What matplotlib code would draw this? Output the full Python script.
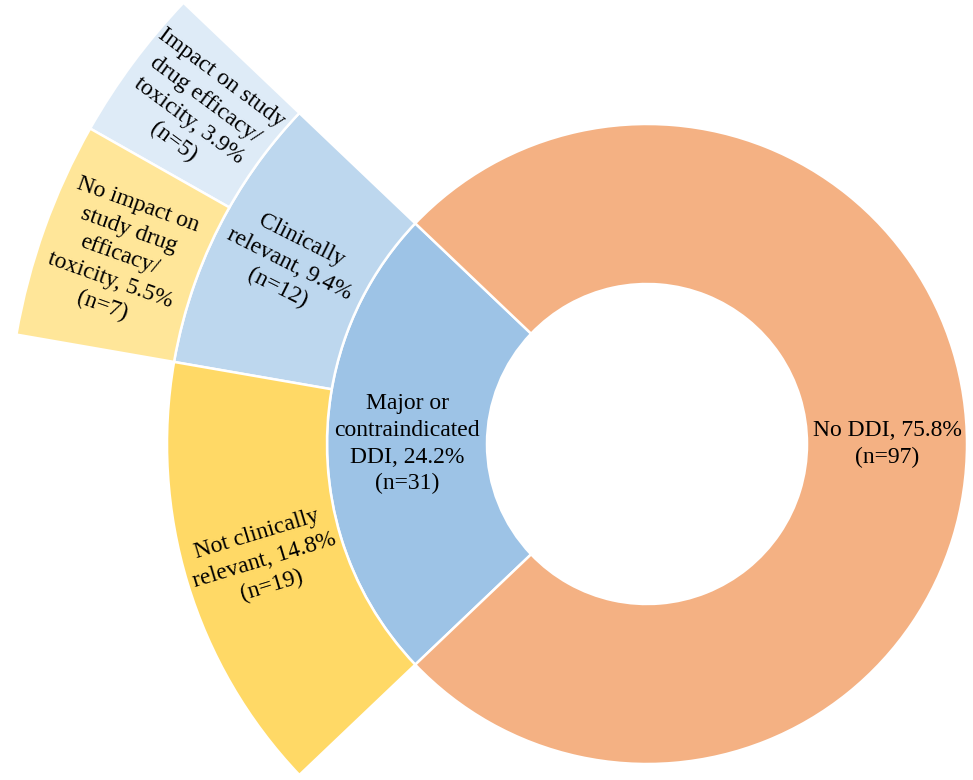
import numpy as np
import matplotlib.pyplot as plt

# ring data (inside -> outside), counts out of 128 patients
inner_names = ["Major or\ncontraindicated\nDDI", "No DDI"]
inner_counts = [31, 97]
middle_names = ["Clinically\nrelevant", "Not clinically\nrelevant"]
middle_counts = [12, 19]
outer_names = ["Impact on study\ndrug efficacy/\ntoxicity", "No impact on\nstudy drug\nefficacy/\ntoxicity"]
outer_counts = [5, 7]

inner_colors = ["#9DC3E6", "#F4B183"]
middle_colors = ["#BDD7EE", "#FFD966"]
outer_colors = ["#DEEBF7", "#FFE699"]

TOTAL = sum(inner_counts)
RING = 160
START = 180 - 360 * inner_counts[0] / TOTAL / 2

plt.rcParams["font.family"] = ["Liberation Serif", "DejaVu Serif"]

fig = plt.figure(figsize=(9.73, 7.8), dpi=100)
ax = fig.add_axes([0, 0, 1, 1])


def ring(counts, names, colors, radius):
    spacer = TOTAL - sum(counts)
    vals = list(counts) + ([spacer] if spacer > 0 else [])
    cols = list(colors) + (["none"] if spacer > 0 else [])
    wedges, _ = ax.pie(vals, radius=radius, startangle=START, counterclock=True,
                       colors=cols,
                       wedgeprops=dict(width=RING, edgecolor="white", linewidth=1.8))
    if spacer > 0:
        wedges[-1].set_visible(False)
    for w, name, n in zip(wedges, names, counts):
        mid = (w.theta1 + w.theta2) / 2
        r = w.r - w.width / 2
        a = mid % 360
        rot = a - 180 if 90 < a < 270 else a
        if abs(rot) < 1:
            rot = 0
        x, y = r * np.cos(np.radians(mid)), r * np.sin(np.radians(mid))
        ax.text(x, y, f"{name}, {100 * n / TOTAL:.1f}%\n(n={n})",
                ha="center", va="center", rotation=rot, rotation_mode="anchor",
                fontsize=17, linespacing=1.35, color="black")


ring(inner_counts, inner_names, inner_colors, 2 * RING)
ring(middle_counts, middle_names, middle_colors, 3 * RING)
ring(outer_counts, outer_names, outer_colors, 4 * RING)

ax.set_xlim(-647, 326)
ax.set_ylim(-336, 444)
ax.set_aspect("equal")
ax.axis("off")

fig.savefig("out.png", dpi=100)
